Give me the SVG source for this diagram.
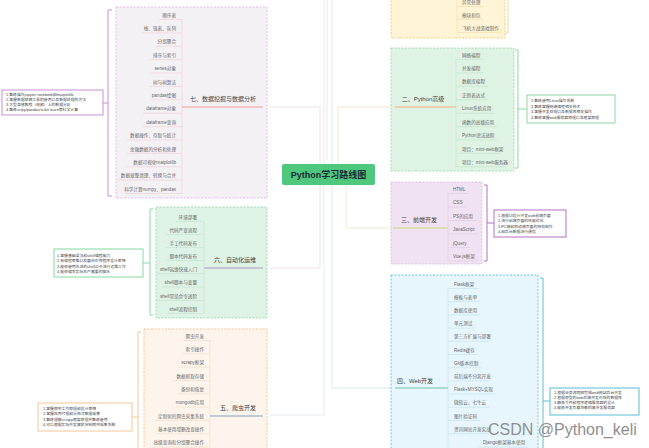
<svg xmlns="http://www.w3.org/2000/svg" width="649" height="448" viewBox="0 0 649 448">
<style>
text{font-family:"Liberation Sans","Noto Sans CJK SC",sans-serif}
.it{font-size:4.6px;fill:#666}
.r{text-anchor:end}
.ti{font-size:6px;fill:#444;text-anchor:middle}
.nt{font-size:3.85px;fill:#444}
.box{stroke-width:0.8;stroke-dasharray:2 1.5}
.ul{fill:none;stroke-width:0.7}
.br{fill:none;stroke-width:1}
.nb{fill:#fff;stroke-width:1}
.cn{fill:none;stroke-width:1}
</style>
<rect width="649" height="448" fill="#fff"/>

<g id="connectors">
<path class="cn" d="M270,107 H320 V268 H270" stroke="#efe2e6"/>
<path class="cn" d="M324,0 V415 H270" stroke="#e6ebf2"/>
<path class="cn" d="M327,0 V160" stroke="#f3e8dc"/>
<path class="cn" d="M332,0 V388 H392" stroke="#d7ede7"/>
<path class="cn" d="M392,107 H338 V164" stroke="#f5e3d0"/>
<path class="cn" d="M346,185 V228 H392" stroke="#e6ecd2"/>
</g>

<g id="center">
<rect x="282" y="164" width="93" height="21" rx="2" fill="#4fc87e"/>
<text x="328.5" y="178" font-size="9" font-weight="bold" fill="#1b2b33" text-anchor="middle">Python学习路线图</text>
</g>

<!-- 七 -->
<g id="sec7">
<rect class="box" x="116" y="7" width="151" height="191" fill="#f4f1f4" stroke="#e2a8ec"/>
<g class="ul" stroke="#efd3da">
<path d="M159,19.5H182M141,32.9H182M155,46.3H182M150,59.6H182M150,73H182M150,86.4H182M150,99.8H182M143,113.2H182M143,126.6H182M127,140H182M127,153.4H182M126,166.7H182M118,180.1H182M125,193.5H182M182,19.5V193.5"/>
</g>
<g class="it r">
<text x="176" y="16.6">顺序表</text>
<text x="176" y="30">栈、链表、队列</text>
<text x="176" y="43.4">分组聚合</text>
<text x="176" y="56.7">排序与索引</text>
<text x="176" y="70.1">series对象</text>
<text x="176" y="83.5">树与树算法</text>
<text x="176" y="96.9">pandas绘图</text>
<text x="176" y="110.3">dataframe对象</text>
<text x="176" y="123.7">dataframe查询</text>
<text x="176" y="137.1">数据操作、存取与统计</text>
<text x="176" y="150.5">金融数据的分析和处理</text>
<text x="176" y="163.8">数据可视化matplotlib</text>
<text x="176" y="177.2">数据规整清理、转换与合并</text>
<text x="176" y="190.6">科学计算numpy、pandas</text>
</g>
<text class="ti" x="223" y="101">七、数据挖掘与数据分析</text>
<path d="M182,107H263" stroke="#f2b9b9" stroke-width="1.5"/>
<path class="br" d="M112,10H108V196H112M103,103H108" stroke="#c88fd8"/>
<rect class="nb" x="2" y="90" width="101" height="25" stroke="#c88fd8"/>
<g class="nt">
<text x="6" y="95.6">1.熟练操作jupyter notebook和matplotlib</text>
<text x="6" y="100.6">2.掌握数据挖掘工具的使用以及数据处理的方法</text>
<text x="6" y="105.6">3.大型录播教程（视频）上的数据分析</text>
<text x="6" y="110.6">4.熟练scipy/pandas/scikit-learn等科学计算</text>
</g>
</g>

<!-- 六 -->
<g id="sec6">
<rect class="box" x="156" y="207" width="111" height="111" fill="#def3e5" stroke="#8ad6a4"/>
<path class="ul" stroke="#c6e2d0" d="M175.6,221.5H204M166.4,234.5H204M166.4,247.5H204M166.4,260.5H204M157,273.5H204M162,287H204M157,300.5H204M166.6,313.5H204M204,221.5V313.5"/>
<g class="it r">
<text x="197" y="218.6">环境部署</text>
<text x="197" y="231.6">代码严查流程</text>
<text x="197" y="244.6">手工代码发布</text>
<text x="197" y="257.6">脚本代码发布</text>
<text x="197" y="270.6">shell运维快速入门</text>
<text x="197" y="284.1">shell脚本与变量</text>
<text x="197" y="297.6">shell常见命令进阶</text>
<text x="197" y="310.6">shell流程控制</text>
</g>
<text class="ti" x="235" y="262">六、自动化运维</text>
<path d="M204,268H263" stroke="#bdb6d0" stroke-width="1.5"/>
<path class="br" d="M153,209H150V315H153M143,263H150" stroke="#86d9a0"/>
<rect class="nb" x="54" y="249" width="89" height="28" stroke="#86d9a0"/>
<g class="nt">
<text x="57" y="256.6">1.掌握基础语法和shell编程能力</text>
<text x="57" y="262.1">2.有编程思维以及面向对象程序设计思想</text>
<text x="57" y="267.6">3.能够使用先进的shell命令进行运维工作</text>
<text x="57" y="273.1">4.能够编写实际生产需要的脚本</text>
</g>
</g>

<!-- 五 -->
<g id="sec5">
<rect class="box" x="144" y="329" width="123" height="130" fill="#fdf5ec" stroke="#f7b27a"/>
<path class="ul" stroke="#f1dccb" d="M182.6,340.5H210M182.6,353.8H210M178,367.1H210M173.4,380.5H210M178,393.8H210M175.7,407.1H210M155,420.5H210M155,433.8H210M150.4,447.1H210M210,340.5V448"/>
<g class="it r">
<text x="204" y="337.6">爬虫开发</text>
<text x="204" y="350.9">索引操作</text>
<text x="204" y="364.2">scrapy框架</text>
<text x="204" y="377.6">数据抓取存储</text>
<text x="204" y="390.9">备份和恢复</text>
<text x="204" y="404.2">mongodb应用</text>
<text x="204" y="417.6">定制化的爬虫采集系统</text>
<text x="204" y="430.9">基本使用增删改查操作</text>
<text x="204" y="444.2">高级查询和分组聚合操作</text>
</g>
<text class="ti" x="238" y="410">五、爬虫开发</text>
<path d="M210,416H263" stroke="#a9bdd3" stroke-width="1.5"/>
<path class="br" d="M141,332H138V450M132,417H138" stroke="#f7c698"/>
<rect class="nb" x="38" y="403" width="94" height="28" stroke="#f7c698"/>
<g class="nt">
<text x="43" y="409.6">1.掌握爬虫工作原理和设计思想</text>
<text x="43" y="415.1">2.掌握应用代理和分布式数据采集</text>
<text x="43" y="420.6">3.熟练理解scrapy框架原理并熟练使用</text>
<text x="43" y="426.1">4.可以根据实际开发需求定制爬虫采集系统</text>
</g>
</g>

<!-- 一 -->
<g id="sec1">
<rect class="box" x="391" y="-10" width="114" height="48" fill="#fff4d6" stroke="#f7c15c"/>
<path class="ul" stroke="#f0dfb0" d="M457,6.5H483.4M457,19.5H483.4M457,32.5H501.8M457,0V32.5"/>
<g class="it">
<text x="462" y="3.6">异常处理</text>
<text x="462" y="16.6">模块和包</text>
<text x="462" y="29.6">飞机大战游戏制作</text>
</g>
<path class="br" d="M508,0V33H505" stroke="#f0d9a8"/>
</g>

<!-- 二 -->
<g id="sec2">
<rect class="box" x="391" y="48" width="123" height="123" fill="#dff3e4" stroke="#8fd6a2"/>
<path class="ul" stroke="#c4e4cd" d="M456,59.5H483.4M456,72.9H483.4M456,86.3H488M456,99.8H488M456,113.2H494.4M456,126.6H497.2M456,140H497.4M456,153.4H500.6M456,166.8H505M456,59.5V166.8"/>
<g class="it">
<text x="462" y="56.6">网络编程</text>
<text x="462" y="70">并发编程</text>
<text x="462" y="83.4">数据库编程</text>
<text x="462" y="96.9">正则表达式</text>
<text x="462" y="110.3">Linux系统应用</text>
<text x="462" y="123.7">函数的高级应用</text>
<text x="462" y="137.1">Python语法进阶</text>
<text x="462" y="150.5">项目：mini-web框架</text>
<text x="462" y="163.9">项目：mini-web服务器</text>
</g>
<text class="ti" x="423" y="101">二、Python高级</text>
<path d="M395,107H456" stroke="#f5c59c" stroke-width="1.5"/>
<path class="br" d="M515,50H518V168H515M518,109H527" stroke="#8fd6a2"/>
<rect class="nb" x="527" y="95" width="88" height="28" stroke="#8fd6a2"/>
<g class="nt">
<text x="531" y="102">1.熟练使用Linux操作系统</text>
<text x="531" y="107.5">2.熟练掌握网络编程相关技术</text>
<text x="531" y="113">3.掌握并发处理以及数据库相关操作</text>
<text x="531" y="118.5">4.熟练掌握web服务器原理以及框架原理</text>
</g>
</g>

<!-- 三 -->
<g id="sec3">
<rect class="box" x="391" y="182" width="91" height="82" fill="#f0e2f2" stroke="#d6bad8"/>
<path class="ul" stroke="#e0cbe2" d="M448,193.5H468M448,207H465M448,220.5H476M448,234H478M448,247.5H470M448,261H478M448,193.5V261"/>
<g class="it">
<text x="453" y="190.6">HTML</text>
<text x="453" y="204.1">CSS</text>
<text x="453" y="217.6">PS的应用</text>
<text x="453" y="231.1">JavaScript</text>
<text x="453" y="244.6">jQuery</text>
<text x="453" y="258.1">Vue.js框架</text>
</g>
<text class="ti" x="419" y="222">三、前端开发</text>
<path d="M393,228H448" stroke="#d5dca0" stroke-width="1.5"/>
<path class="br" d="M484,185H487V261H484M487,223H494" stroke="#b56fc5"/>
<rect class="nb" x="494" y="210" width="72" height="27" stroke="#b56fc5"/>
<g class="nt">
<text x="498" y="216.6">1.根据UI设计开发web前端页面</text>
<text x="498" y="222.1">2.进行前端页面的性能优化</text>
<text x="498" y="227.6">3.PC端和移动端页面的特效制作</text>
<text x="498" y="233.1">4.和后台数据进行通信</text>
</g>
</g>

<!-- 四 -->
<g id="sec4">
<rect class="box" x="391" y="275" width="147" height="190" fill="#e7f6fd" stroke="#4ab9d3"/>
<path class="ul" stroke="#c6e2ec" d="M448,288.5H478M448,301.7H480M448,314.9H480M448,328.1H475.4M448,341.3H489.2M448,354.5H477M448,367.7H482M448,380.9H489.2M448,394.1H496M448,407.3H489.2M448,420.5H480M448,433.7H493.8M448,288.5V448M478,447.1H528"/>
<g class="it">
<text x="454" y="285.6">Flask框架</text>
<text x="454" y="298.8">模板与表单</text>
<text x="454" y="312">数据库使用</text>
<text x="454" y="325.2">单元测试</text>
<text x="454" y="338.4">第三方扩展与部署</text>
<text x="454" y="351.6">Redis缓存</text>
<text x="454" y="364.8">Git版本控制</text>
<text x="454" y="378">前后端不分离开发</text>
<text x="454" y="391.2">Flask+MYSQL实现</text>
<text x="454" y="404.4">微软云、七牛云</text>
<text x="454" y="417.6">图片验证码</text>
<text x="454" y="430.8">资讯网站开发实战</text>
<text x="483" y="444.2">Django框架基本使用</text>
</g>
<text class="ti" x="415" y="383">四、Web开发</text>
<path d="M395,388H448" stroke="#98d4c5" stroke-width="1.5"/>
<path class="br" d="M540,278H543V450M543,401H550" stroke="#5bbcd8"/>
<rect class="nb" x="550" y="388" width="89" height="27" stroke="#5bbcd8"/>
<g class="nt">
<text x="554" y="394.3">1.根据业务流程图完成web网站后台开发</text>
<text x="554" y="399.3">2.根据原型的web后端开发对应的数据库</text>
<text x="554" y="404.3">3.静态文件和程序逻辑服务器的设计</text>
<text x="554" y="409.3">4.能够开发负载均衡的高并发服务器</text>
</g>
</g>

<text x="488" y="435" font-size="16" fill="#8f8f8f">CSDN @Python_keli</text>
</svg>
